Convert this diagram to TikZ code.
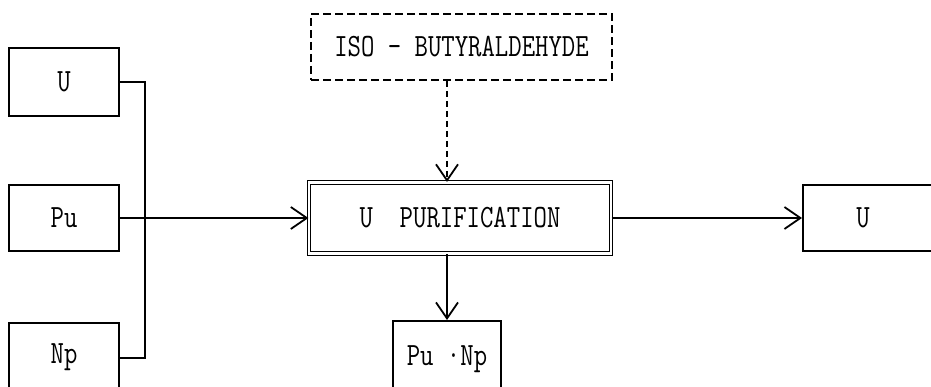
\documentclass[tikz,border=0pt]{standalone}
\usepackage{graphicx}
\usetikzlibrary{arrows.meta}
\newcommand{\tall}[1]{\scalebox{1}[1.25]{#1}}

\begin{document}
\begin{tikzpicture}[x=1pt, y=-1pt, line width=2pt,
    font=\ttfamily\fontsize{26}{30}\selectfont,
    box/.style={draw, line width=2pt, inner sep=0pt},
    purbox/.style={draw, line width=1.2pt, double, double distance=2.2pt, inner sep=0pt},
    addbox/.style={draw, dash pattern=on 8pt off 4pt, line width=2pt, inner sep=0pt},
    flow/.style={-{Straight Barb[length=16pt,width=22pt,line width=1.8pt]}, line width=2.5pt}]

  \useasboundingbox (0,0) rectangle (931,387);

  % feed streams on the left
  \node[box, minimum width=110, minimum height=68] (ufeed)  at (64,82)    {\tall{U}};
  \node[box, minimum width=110, minimum height=66] (pufeed) at (64,218)   {\tall{Pu}};
  \node[box, minimum width=110, minimum height=69] (npfeed) at (64,357.5) {\tall{Np}};

  % purification step and its reagent
  \node[purbox, minimum width=302, minimum height=71] (pur) at (460,218) {\tall{U~~PURIFICATION}};
  \node[addbox, minimum width=301, minimum height=66] (iso) at (461.5,47) {\tall{ISO - BUTYRALDEHYDE}};

  % products (the U box runs off the right edge)
  \node[box, minimum width=142, minimum height=66] (uprod) at (874,218) {\tall{U}\hspace{22pt}\mbox{}};
  \node[box, minimum width=108, minimum height=76] (pund)  at (447,359) {\tall{Pu ·Np}};

  % collecting line for the feeds
  \coordinate (bustop) at (145,82);
  \coordinate (busbot) at (145,357.5);
  \draw (ufeed.east) -- (bustop) -- (busbot) -- (npfeed.east);

  % flows
  \draw[flow] (pufeed.east) -- (pur.west);
  \draw[flow] (pur.east) -- (uprod.west);
  \draw[flow] (pur.south -| pund.north) -- (pund.north);
  \draw[flow, line width=2pt, dash pattern=on 6pt off 4pt] (iso.south -| pund.north) -- (pur.north -| pund.north);
\end{tikzpicture}
\end{document}
